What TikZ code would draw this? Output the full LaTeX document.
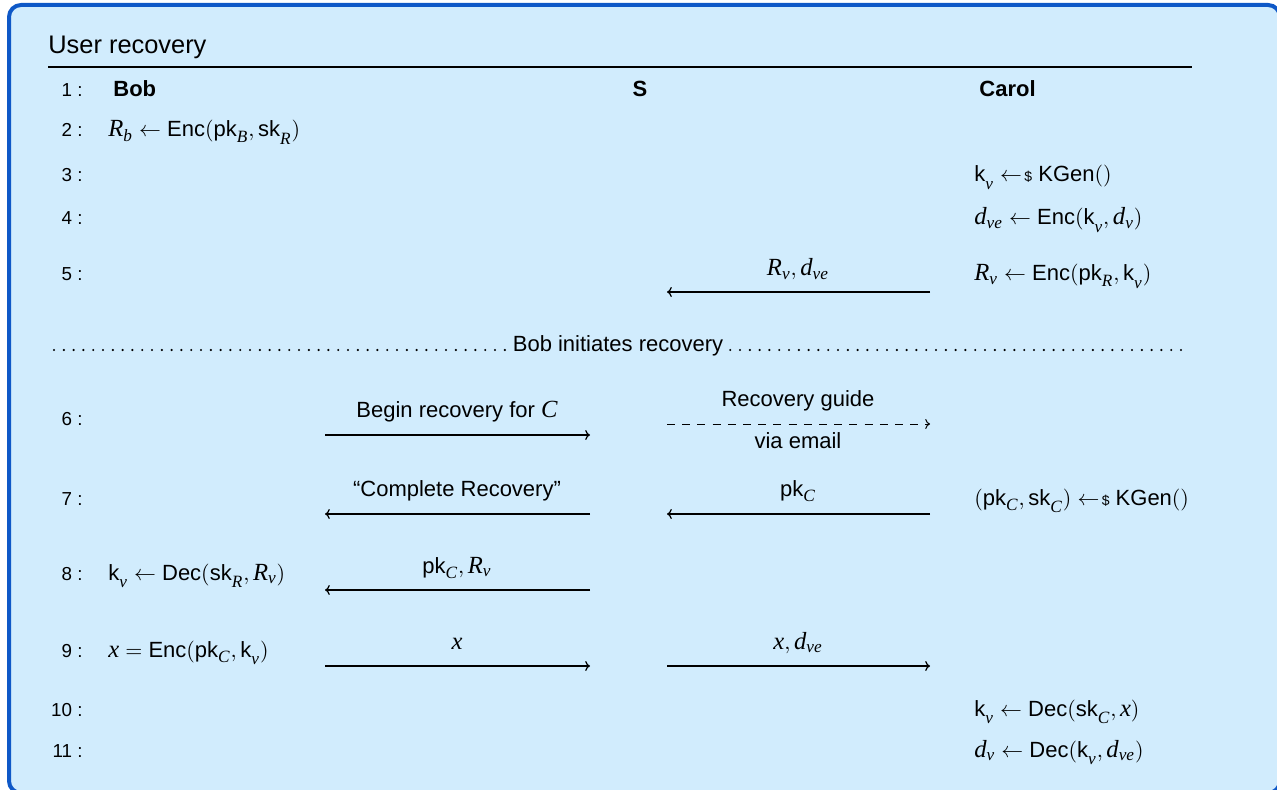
\documentclass[tikz,border=0pt]{standalone}
\usepackage{amsmath}
\usepackage{fontspec}
\setmainfont{Liberation Sans}
\newfontfamily\serifit{Liberation Serif}[Scale=1.12]
\usetikzlibrary{arrows.meta}
\definecolor{bg}{RGB}{209,236,253}
\definecolor{framecol}{RGB}{14,88,199}
\newcommand{\Enc}{\text{Enc}}
\newcommand{\Dec}{\text{Dec}}
\newcommand{\KGen}{\text{KGen}}
\newcommand{\pk}{\text{pk}}
\newcommand{\sk}{\text{sk}}
\newcommand{\kk}{\text{k}}
\newcommand{\mv}[1]{\text{\serifit\itshape #1}}
\newcommand{\lsub}[1]{_{\raisebox{-0.4ex}{$\scriptstyle #1$}}}
\newcommand{\samplearrow}{\mathrel{\leftarrow\mkern-3mu\text{\fontsize{7}{8}\selectfont\$}}}
\begin{document}
\begin{tikzpicture}[x=0.5pt,y=-0.5pt,
  txt/.style={inner sep=0pt, font=\fontsize{11}{13}\selectfont},
  lt/.style={txt, anchor=base west},
  lbl/.style={txt, anchor=base},
  num/.style={inner sep=0pt, anchor=base east, font=\fontsize{9.4}{11}\selectfont},
  party/.style={txt, anchor=base west, font=\fontsize{11}{13}\selectfont\bfseries},
  msg/.style={-{To[length=2.4pt,width=5pt]}, line width=0.6pt},
  dmsg/.style={msg, dash pattern=on 4pt off 3.6pt, line width=0.5pt},
  sepdots/.style={line width=1.2pt, line cap=round, dash pattern=on 0pt off 4.9pt}]
\useasboundingbox (0,0) rectangle (1277,790);
\begin{scope}
\clip (0,0) rectangle (1277,790);
\draw[framecol, line width=2pt, fill=bg, rounded corners=6pt] (9,5) rectangle (1280,793);
\end{scope}
% title
\node[lt, font=\fontsize{12.7}{15}\selectfont] (title) at (48,54) {User recovery};
\coordinate (ruleL) at (48,67);
\coordinate (ruleR) at (1192,67);
\draw[line width=0.6pt] (ruleL) -- (ruleR);
% line numbers
\foreach \n/\y in {1/97,2/137,3/182,4/225,5/281,6/425,7/505,8/580,9/657,10/716,11/757}
  \node[num] (n\n) at (83,\y) {\n\ :};
% parties
\node[party] (bob) at (113,97) {Bob};
\node[txt, anchor=base, font=\fontsize{11}{13}\selectfont\bfseries] (srv) at (640,97) {S};
\node[party] (carol) at (979,97) {Carol};
% left column
\node[lt] (l2) at (108,137) {$\mv{R}_{\mv{b}} \leftarrow \Enc(\pk_{\mv{B}}, \sk\lsub{\mv{R}})$};
\node[lt] (l8) at (108,580) {$\kk\lsub{\mv{v}} \leftarrow \Dec(\sk\lsub{\mv{R}}, \mv{R}_{\mv{v}})$};
\node[lt] (l9) at (108,657) {$\mv{x} = \Enc(\pk_{\mv{C}}, \kk\lsub{\mv{v}})$};
% right column
\node[lt] (r3) at (974,182) {$\kk\lsub{\mv{v}} \samplearrow \KGen()$};
\node[lt] (r4) at (974,225) {$\mv{d}_{\mv{ve}} \leftarrow \Enc(\kk\lsub{\mv{v}}, \mv{d}_{\mv{v}})$};
\node[lt] (r5) at (974,281) {$\mv{R}_{\mv{v}} \leftarrow \Enc(\pk_{\mv{R}}, \kk\lsub{\mv{v}})$};
\node[lt] (r7) at (974,505) {$(\pk_{\mv{C}}, \sk\lsub{\mv{C}}) \samplearrow \KGen()$};
\node[lt] (r10) at (974,716) {$\kk\lsub{\mv{v}} \leftarrow \Dec(\sk\lsub{\mv{C}}, \mv{x})$};
\node[lt] (r11) at (974,757) {$\mv{d}_{\mv{v}} \leftarrow \Dec(\kk\lsub{\mv{v}}, \mv{d}_{\mv{ve}})$};
% separator
\coordinate (sepL) at (54,350);
\coordinate (sepR) at (1187,350);
\draw[sepdots] (sepL) -- (sepR);
\node[lbl, fill=bg, inner xsep=3pt, inner ysep=1pt] (sep) at (618,352) {Bob initiates recovery};
% message coordinates
\coordinate (a5s) at (930,292); \coordinate (a5e) at (667,292);
\coordinate (a6s) at (325,435); \coordinate (a6e) at (590,435);
\coordinate (b6s) at (667,424); \coordinate (b6e) at (930,424);
\coordinate (a7s) at (590,514); \coordinate (a7e) at (325,514);
\coordinate (b7s) at (930,514); \coordinate (b7e) at (667,514);
\coordinate (a8s) at (590,590); \coordinate (a8e) at (325,590);
\coordinate (a9s) at (325,666); \coordinate (a9e) at (590,666);
\coordinate (b9s) at (667,666); \coordinate (b9e) at (930,666);
% messages
\draw[msg] (a5s) -- (a5e);
\node[lbl] (m5) at (798,276) {$\mv{R}_{\mv{v}}, \mv{d}_{\mv{ve}}$};
\draw[msg] (a6s) -- (a6e);
\node[lbl] (m6a) at (457,417) {Begin recovery for $\mv{C}$};
\draw[dmsg] (b6s) -- (b6e);
\node[lbl] (m6b) at (798,407) {Recovery guide};
\node[lbl] (m6c) at (798,448) {via email};
\draw[msg] (a7s) -- (a7e);
\node[lbl] (m7a) at (457,496) {``Complete Recovery''};
\draw[msg] (b7s) -- (b7e);
\node[lbl] (m7b) at (798,496) {$\pk_{\mv{C}}$};
\draw[msg] (a8s) -- (a8e);
\node[lbl] (m8) at (457,573) {$\pk_{\mv{C}}, \mv{R}_{\mv{v}}$};
\draw[msg] (a9s) -- (a9e);
\node[lbl] (m9a) at (457,649) {$\mv{x}$};
\draw[msg] (b9s) -- (b9e);
\node[lbl] (m9b) at (798,649) {$\mv{x}, \mv{d}_{\mv{ve}}$};
\end{tikzpicture}
\end{document}
